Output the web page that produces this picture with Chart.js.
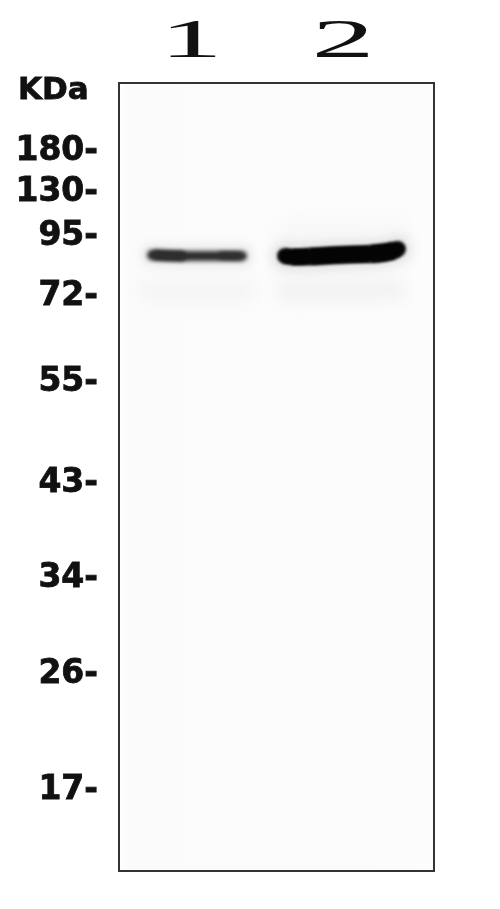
<!DOCTYPE html>
<html>
<head>
<meta charset="utf-8">
<title>Western blot</title>
<script src="https://cdn.jsdelivr.net/npm/chart.js@4"></script>
<style>
    html, body { margin: 0; padding: 0; background: #ffffff; }
    canvas { display: block; }
</style>
</head>
<body>
<canvas id="blot" width="500" height="909"></canvas>
<script>
// marker ladder
const kdaLabels = ['180', '130', '95', '72', '55', '43', '34', '26', '17'];
const kdaPositions = [151, 192, 236, 296, 382, 483, 578, 674, 790];

const laneLabels = ['1', '2'];
const laneCenters = [191, 343];

// band in lane 1, with its darker left part and a small dark patch on the right
const band1X = [152, 170, 195, 215, 230, 242];
const band1Y = [255, 255.7, 256, 256, 256, 256];
const band1LeftX = [156, 166, 182];
const band1LeftY = [255, 255.6, 256];
const band1RightX = [222, 238];
const band1RightY = [255.6, 256];

// band in lane 2
const band2X = [285, 292, 310, 340, 370, 385, 394, 398];
const band2Y = [256, 257, 256.5, 255, 254, 252.5, 250.5, 249];
const band2Thickness = [13, 16, 17, 17, 18, 18, 15, 13];

// faint smears around and below the bands
const smear1X = [150, 245];
const smear1Y = [291, 291];
const smear2X = [288, 395];
const smear2Y = [291, 289];
const halo2TopY = [232, 226];

const points = (xs, ys) => xs.map((x, i) => ({ x, y: ys[i] }));

const baseLine = {
    showLine: true,
    pointRadius: 0,
    fill: false,
    tension: 0.4,
    borderCapStyle: 'round',
    borderJoinStyle: 'round'
};

const blurPlugin = {
    id: 'bandBlur',
    beforeDatasetDraw(chart, args) {
        const blur = chart.data.datasets[args.index].blur;
        chart.ctx.save();
        if (blur) chart.ctx.filter = `blur(${blur}px)`;
    },
    afterDatasetDraw(chart) {
        chart.ctx.restore();
    }
};

const framePlugin = {
    id: 'blotFrame',
    beforeDraw(chart) {
        const { ctx, chartArea: a } = chart;
        const bg = ctx.createLinearGradient(a.left, 0, a.right, 0);
        bg.addColorStop(0, '#ffffff');
        bg.addColorStop(0.03, '#fbfbfb');
        bg.addColorStop(1, '#fcfcfc');
        ctx.save();
        ctx.fillStyle = bg;
        ctx.fillRect(a.left, a.top, a.right - a.left, a.bottom - a.top);
        ctx.restore();
    },
    afterDraw(chart) {
        const { ctx, chartArea: a, scales } = chart;
        ctx.save();
        ctx.strokeStyle = '#333333';
        ctx.lineWidth = 2;
        ctx.strokeRect(a.left, a.top, a.right - a.left, a.bottom - a.top);

        ctx.fillStyle = '#111111';
        ctx.strokeStyle = '#111111';
        ctx.lineWidth = 0.8;
        ctx.font = 'bold 31px "DejaVu Sans"';
        ctx.textAlign = 'left';
        ctx.textBaseline = 'middle';
        ctx.fillText('KDa', 18, 91);
        ctx.strokeText('KDa', 18, 91);

        // lane numbers are stretched wide in the original
        ctx.font = '55px "Liberation Serif"';
        ctx.textAlign = 'center';
        ctx.textBaseline = 'alphabetic';
        laneLabels.forEach((label, i) => {
            ctx.save();
            ctx.translate(scales.x.getPixelForValue(laneCenters[i]), 57);
            ctx.scale(2.3, 1);
            ctx.fillText(label, 0, 0);
            ctx.restore();
        });
        ctx.restore();
    }
};

new Chart(document.getElementById('blot'), {
    type: 'scatter',
    plugins: [blurPlugin, framePlugin],
    data: {
        datasets: [
            { ...baseLine, data: points(smear1X, smear1Y), borderColor: 'rgba(0,0,0,0.025)', borderWidth: 24, blur: 8 },
            { ...baseLine, data: points(smear2X, smear2Y), borderColor: 'rgba(0,0,0,0.035)', borderWidth: 24, blur: 8 },
            { ...baseLine, data: points(smear2X, halo2TopY), borderColor: 'rgba(0,0,0,0.012)', borderWidth: 26, blur: 8 },
            { ...baseLine, data: points(band1X, band1Y), borderColor: 'rgba(0,0,0,0.07)', borderWidth: 22, blur: 5 },
            { ...baseLine, data: points(band2X, band2Y), borderColor: 'rgba(0,0,0,0.10)', borderWidth: 28, blur: 6 },
            { ...baseLine, data: points(band1X, band1Y), borderColor: '#333333', borderWidth: 10, blur: 2.2 },
            { ...baseLine, data: points(band1LeftX, band1LeftY), borderColor: '#000000', borderWidth: 9, blur: 2 },
            { ...baseLine, data: points(band1RightX, band1RightY), borderColor: 'rgba(0,0,0,0.75)', borderWidth: 7, blur: 2 },
            { ...baseLine, data: points(band2X, band2Y), borderColor: '#050505', borderWidth: 16, blur: 1.5 },
            {
                ...baseLine,
                data: points(band2X, band2Y),
                borderColor: '#020202',
                borderWidth: 16,
                borderCapStyle: 'butt',
                blur: 1.5,
                segment: {
                    borderWidth: ctx => band2Thickness[ctx.p0DataIndex]
                }
            }
        ]
    },
    options: {
        responsive: false,
        animation: false,
        layout: { padding: { top: 83, right: 66, bottom: 38, left: 0 } },
        plugins: {
            legend: { display: false },
            tooltip: { enabled: false }
        },
        scales: {
            x: {
                type: 'linear',
                min: 119,
                max: 434,
                display: false
            },
            y: {
                type: 'linear',
                reverse: true,
                min: 83,
                max: 871,
                grid: { display: false },
                border: { display: false },
                afterBuildTicks(scale) {
                    scale.ticks = kdaPositions.map(value => ({ value }));
                },
                afterFit(scale) {
                    scale.width = 119;
                },
                ticks: {
                    autoSkip: false,
                    padding: 13,
                    color: '#111111',
                    textStrokeColor: '#111111',
                    textStrokeWidth: 0.8,
                    font: { family: '"DejaVu Sans"', weight: 'bold', size: 33 },
                    callback: (value, i) => kdaLabels[i] + '-'
                }
            }
        }
    }
});
</script>
</body>
</html>
